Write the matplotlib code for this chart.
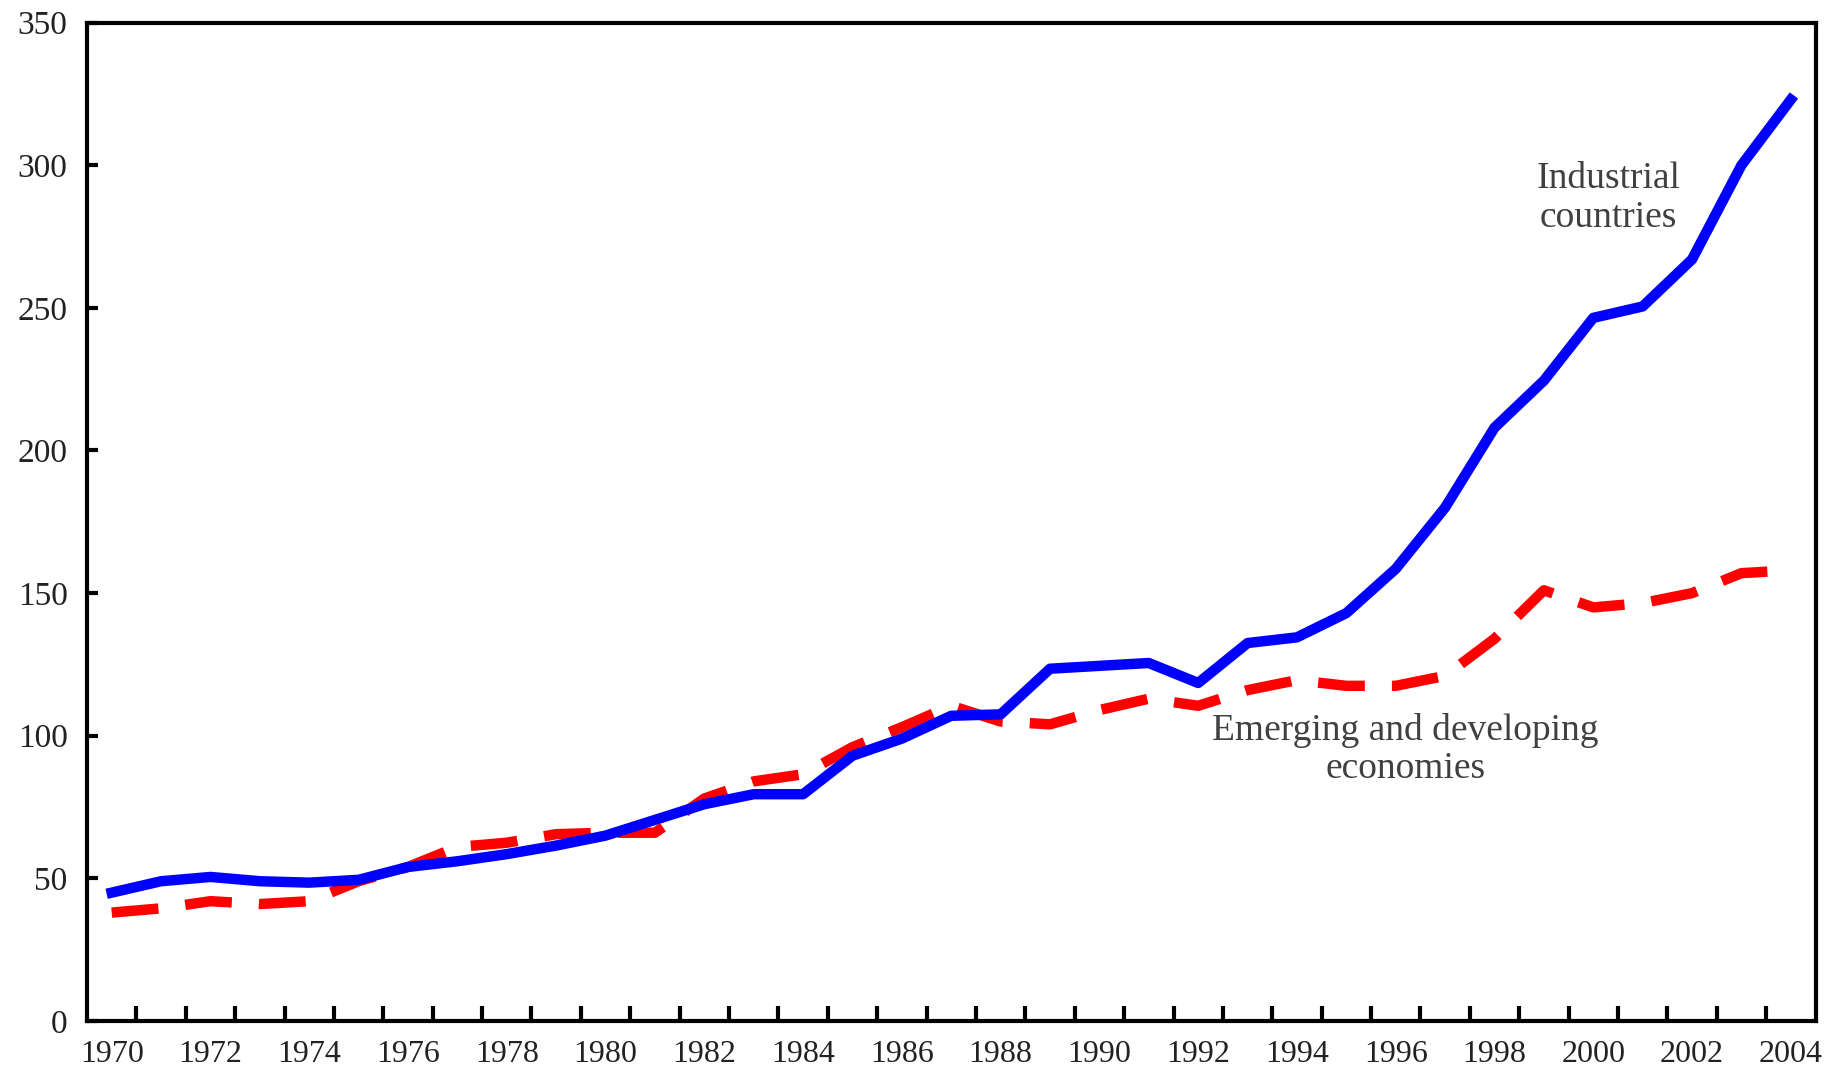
import matplotlib
matplotlib.use("Agg")
import matplotlib.pyplot as plt
import numpy as np

years = list(range(1970, 2005))
industrial = [45, 49, 50.5, 49, 48.5, 49.5, 54, 56, 58.5, 61.5, 65, 70.5, 76, 79.5, 79.5,
              93, 99, 107, 107.5, 123.5, 124.5, 125.5, 118.5, 132.5, 134.5, 143, 158.5,
              180, 208, 224.5, 246.5, 250.5, 267, 300, 323]
emerging = [38, 39.5, 42, 41, 42, 49, 54, 61, 62.5, 65.5, 66, 66, 78, 84, 86.5,
            96, 103, 110.5, 105, 104, 109, 113, 110.5, 116, 119.5, 117.5, 117.5,
            121, 134, 151, 145, 146.5, 150, 157, 158]
x_labels = [str(y) for y in range(1970, 2005, 2)]
y_ticks = [0, 50, 100, 150, 200, 250, 300, 350]

plt.rcParams['font.family'] = ['Liberation Serif', 'DejaVu Serif']

fig = plt.figure(figsize=(18.32, 10.77), dpi=100)
ax = fig.add_axes([0.0475, 0.052, 0.9435, 0.927])

ax.plot(years, emerging, color='#ff0000', lw=7.5, dashes=(4.5, 2.6), solid_capstyle='butt',
        dash_capstyle='butt', zorder=2)
ax.plot(years, industrial, color='#0000ff', lw=7.5, solid_joinstyle='round', zorder=3)

ax.set_xlim(1969.5, 2004.5)
ax.set_ylim(0, 350)

ax.set_xticks(np.arange(1970.5, 2004, 1))
ax.set_xticklabels([])
ax.set_xticks(range(1970, 2005, 2), minor=True)
ax.set_xticklabels(x_labels, minor=True)
ax.tick_params(axis='x', which='major', direction='in', length=11, width=3, bottom=True, top=False)
ax.tick_params(axis='x', which='minor', length=0, pad=14, labelsize=23, labelcolor='#222222')
ax.set_yticks(y_ticks)
ax.tick_params(axis='y', direction='in', length=8, width=3, left=True, right=False,
               labelsize=24, pad=14, labelcolor='#222222')

for s in ax.spines.values():
    s.set_linewidth(3)

ax.text(2000.3, 288.4, "Industrial\ncountries", ha='center', va='center', fontsize=27,
        color='#404040', linespacing=1.15)
ax.text(1996.2, 95.2, "Emerging and developing\neconomies", ha='center', va='center', fontsize=27,
        color='#404040', linespacing=1.15)

fig.savefig("out.png", dpi=100)
